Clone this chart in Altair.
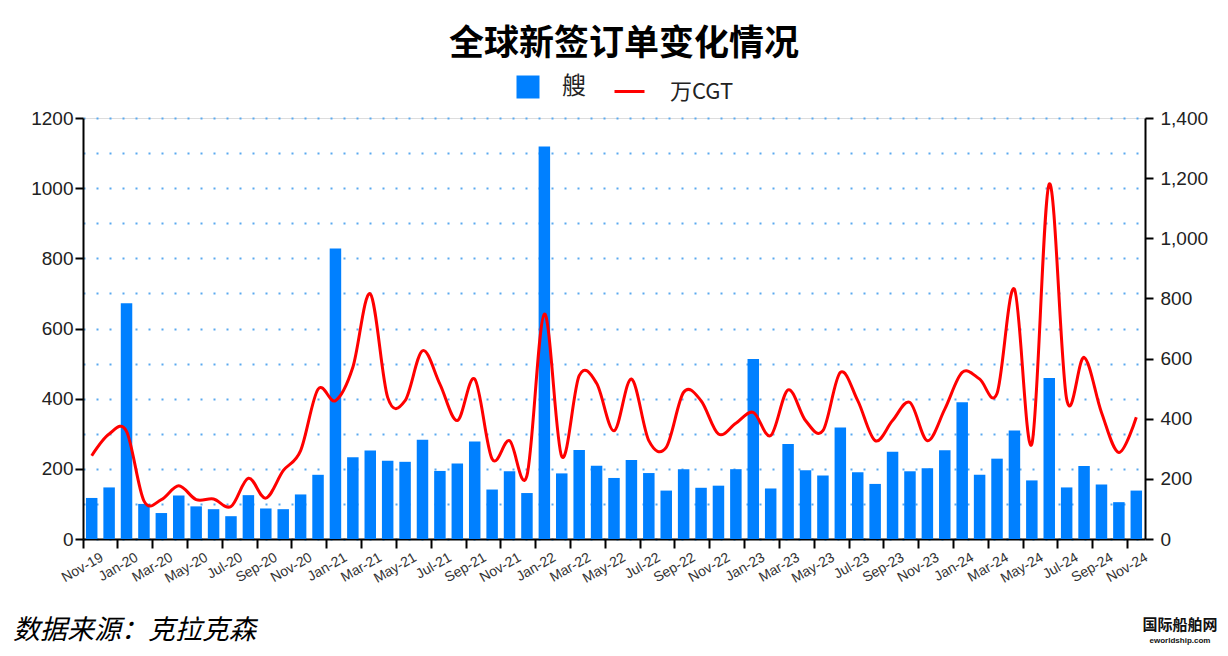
import altair as alt
import pandas as pd

# Categories: monthly, Nov-19 .. Nov-24
months = [d.strftime("%b-%y") for d in pd.date_range("2019-11-01", "2024-11-01", freq="MS")]
tick_months = months[::2]

# New orders, number of ships (left axis)
ships = [117, 147, 672, 100, 74, 124, 93, 85, 65, 125, 87, 85, 127, 183, 828,
         233, 252, 223, 220, 283, 194, 215, 278, 141, 193, 131, 1119, 187, 254, 209,
         174, 225, 188, 138, 199, 146, 152, 199, 513, 144, 271, 196, 181, 318, 190,
         157, 249, 193, 202, 253, 390, 183, 229, 309, 167, 459, 147, 208, 155, 105, 138]

# New orders, 10k CGT (right axis)
cgt = [277, 349, 358, 127, 131, 177, 131, 133, 108, 202, 136, 227, 294, 498, 460,
       571, 815, 471, 460, 626, 515, 394, 532, 266, 327, 211, 748, 274, 543, 518,
       360, 532, 327, 305, 488, 460, 349, 385, 421, 344, 496, 394, 360, 554, 460,
       327, 394, 454, 327, 432, 554, 532, 484, 831, 316, 1181, 465, 604, 421, 288, 405]

series_ship = "艘"
series_cgt = "万CGT"

df = pd.DataFrame({"month": months, "ships": ships, "cgt": cgt,
                   "s": series_ship, "c": series_cgt})

BLUE = "#0080FF"
RED = "#FF0000"
NUM_FONT = "Liberation Sans"
CJK = "Noto Sans CJK SC"

x_enc = alt.X(
    "month:N", sort=months, title=None,
    scale=alt.Scale(paddingInner=0, paddingOuter=0),
    axis=alt.Axis(values=tick_months, bandPosition=0, labelAngle=-30,
                  labelAlign="right", labelBaseline="top", labelOffset=7,
                  labelPadding=2, labelFontSize=14, labelColor="#333333",
                  labelFont=NUM_FONT, tickSize=9, tickColor="#000000",
                  tickWidth=2, domainColor="#000000", domainWidth=2,
                  grid=False, labelOverlap=False),
)

bars = alt.Chart(df).mark_bar(width={"band": 0.66}).encode(
    x=x_enc,
    y=alt.Y("ships:Q", title=None,
            scale=alt.Scale(domain=[0, 1200], nice=False, zero=True),
            axis=alt.Axis(values=list(range(0, 1201, 100)),
                          labelExpr="datum.value % 200 === 0 ? datum.label : ''",
                          format="d",
                          tickOpacity={"condition": {"test": "datum.value % 200 !== 0", "value": 0}, "value": 1},
                          tickSize=8, tickWidth=2, tickColor="#000000",
                          labelPadding=2, labelFontSize=19, labelColor="#222222",
                          labelFont=NUM_FONT, domainColor="#000000", domainWidth=2,
                          grid=True, gridColor="#5aa9ef", gridDash=[2, 11],
                          gridWidth=2, gridOpacity=1)),
    fill=alt.Fill("s:N", scale=alt.Scale(domain=[series_ship], range=[BLUE]),
                  legend=alt.Legend(title=None, orient="none", legendX=433, legendY=-43,
                                    symbolType="square", symbolSize=529,
                                    symbolStrokeWidth=0, labelFont=CJK,
                                    labelFontSize=24, labelColor="#222222",
                                    labelOffset=22, padding=0)),
)

line = alt.Chart(df).mark_line(interpolate="cardinal", strokeWidth=3).encode(
    x=x_enc,
    y=alt.Y("cgt:Q", title=None,
            scale=alt.Scale(domain=[0, 1400], nice=False, zero=True),
            axis=alt.Axis(orient="right", values=list(range(0, 1401, 200)),
                          format=",.0f", tickSize=8, tickWidth=2, tickColor="#000000",
                          labelPadding=7, labelFontSize=19, labelColor="#222222",
                          labelFont=NUM_FONT, domainColor="#000000", domainWidth=2,
                          grid=False)),
    stroke=alt.Stroke("c:N", scale=alt.Scale(domain=[series_cgt], range=[RED]),
                      legend=alt.Legend(title=None, orient="none", legendX=530, legendY=-43,
                                        symbolType="stroke", symbolSize=900,
                                        symbolStrokeWidth=3, labelFont=CJK,
                                        labelFontSize=22, labelColor="#222222",
                                        labelOffset=24, padding=0)),
)

footer = alt.Chart(pd.DataFrame({"t": ["数据来源：克拉克森"]})).mark_text(
    align="left", baseline="middle", font=CJK, fontSize=27, fontStyle="italic",
    color="#000000").encode(text="t:N", x=alt.value(-70), y=alt.value(513))

mark1 = alt.Chart(pd.DataFrame({"t": ["国际船舶网"]})).mark_text(
    align="center", baseline="middle", font=CJK, fontSize=15, fontWeight="bold",
    color="#111111").encode(text="t:N", x=alt.value(1097), y=alt.value(507))

mark2 = alt.Chart(pd.DataFrame({"t": ["eworldship.com"]})).mark_text(
    align="center", baseline="middle", font=NUM_FONT, fontSize=8, fontWeight="bold",
    color="#111111").encode(text="t:N", x=alt.value(1097), y=alt.value(523))

chart = alt.layer(bars, line, footer, mark1, mark2).resolve_scale(
    y="independent", fill="independent", stroke="independent"
).properties(
    width=1062, height=421,
    autosize="none",
    padding={"left": 75, "top": 110, "right": 75, "bottom": 109},
    title=alt.TitleParams("全球新签订单变化情况", font=CJK, fontSize=35,
                          fontWeight="bold", color="#000000", anchor="middle",
                          offset=13, dx=10),
).configure_view(stroke=None).configure(background="white")

chart.save("out.html", embed_options={"renderer": "svg", "actions": False})
